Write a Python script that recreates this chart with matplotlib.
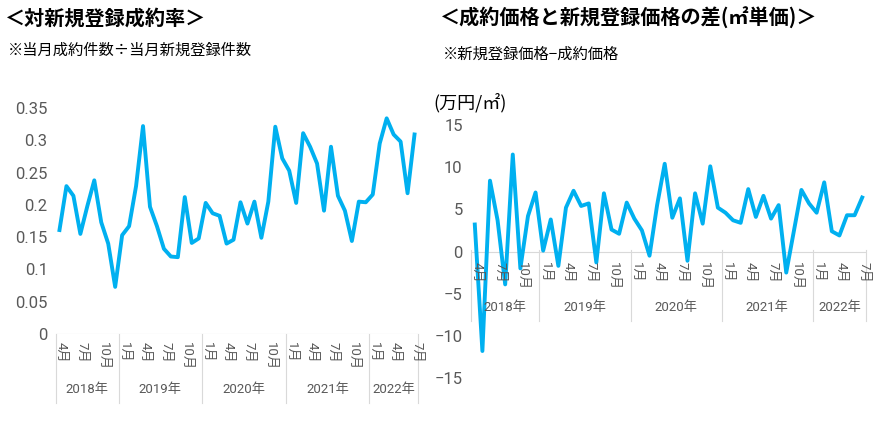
import matplotlib
matplotlib.use("Agg")
import matplotlib.pyplot as plt
import matplotlib.transforms as mt

plt.rcParams['font.family'] = ['Noto Sans CJK JP', 'DejaVu Sans']

months = [4,5,6,7,8,9,10,11,12] + list(range(1,13))*3 + [1,2,3,4,5,6,7]
years = [2018]*9 + [2019]*12 + [2020]*12 + [2021]*12 + [2022]*7
rate = [0.161,0.229,0.214,0.155,0.198,0.238,0.173,0.140,0.073,0.153,0.167,0.229,0.322,
        0.197,0.167,0.132,0.120,0.119,0.212,0.141,0.148,0.203,0.187,0.183,0.140,0.146,
        0.204,0.171,0.205,0.149,0.205,0.321,0.272,0.253,0.203,0.311,0.290,0.264,0.191,
        0.290,0.214,0.191,0.144,0.205,0.204,0.216,0.295,0.334,0.309,0.298,0.218,0.309]
diff = [3.2,-11.8,8.4,3.7,-3.9,11.5,-2.0,4.2,7.0,0.1,3.8,-1.7,5.2,7.2,5.4,5.7,-1.3,6.9,
        2.6,2.1,5.8,3.9,2.5,-0.5,5.5,10.4,4.0,6.3,-1.1,6.9,3.3,10.1,5.2,4.6,3.7,3.4,7.4,
        4.1,6.6,3.9,5.5,-2.5,2.4,7.3,5.7,4.6,8.2,2.4,1.9,4.3,4.3,6.4]

W, H = 879, 421
fig = plt.figure(figsize=(W/100, H/100), dpi=100)
BLUE = '#00B0F0'
GREY = '#595959'
LINE = '#D9D9D9'
NUMF = ['Roboto', 'Noto Sans CJK JP']

def px(x0, y0, x1, y1):
    return [x0/W, 1-y1/H, (x1-x0)/W, (y1-y0)/H]

def cat_axis(ax, base, mlab_top, year_y, line_bottom):
    n = len(months)
    tr = mt.blended_transform_factory(ax.transData, fig.transFigure)
    bounds = [-0.5] + [i-0.5 for i in range(1, n) if years[i] != years[i-1]] + [n-0.5]
    for b in bounds:
        ax.plot([b, b], [1-base/H, 1-line_bottom/H], transform=tr, color=LINE, lw=0.8, clip_on=False)
    for i in range(0, n, 3):
        ax.text(i+0.3, 1-mlab_top/H, f"{months[i]}月", transform=tr, rotation=-90,
                ha='center', va='top', fontsize=9.5, color=GREY, family=NUMF)
    for a, b in zip(bounds[:-1], bounds[1:]):
        ax.text((a+b)/2, 1-year_y/H, f"{years[int(a+0.5)]}年", transform=tr,
                ha='center', va='center', fontsize=9.5, color=GREY, family=NUMF)

def style(ax):
    for s in ax.spines.values():
        s.set_visible(False)
    ax.tick_params(axis='both', length=0, labelsize=12, labelcolor=GREY, pad=6)
    for t in ax.get_yticklabels():
        t.set_family(NUMF)
    ax.set_xticks([])
    ax.set_facecolor('none')

x = list(range(len(rate)))
# left
ax1 = fig.add_axes(px(56, 108, 418, 334))
ax1.plot(x, rate, color=BLUE, lw=2.8, solid_joinstyle='round')
ax1.set_xlim(-0.5, len(rate)-0.5)
ax1.set_ylim(0, 0.35)
ax1.set_yticks([0,0.05,0.1,0.15,0.2,0.25,0.3,0.35])
ax1.set_yticklabels(['0','0.05','0.1','0.15','0.2','0.25','0.3','0.35'])
style(ax1)
ax1.axhline(0, color=LINE, lw=0.8)
cat_axis(ax1, 334, 342, 390, 403)

# right
ax2 = fig.add_axes(px(471, 125, 866, 378))
ax2.plot(x, diff, color=BLUE, lw=2.8, solid_joinstyle='round')
ax2.set_xlim(-0.5, len(diff)-0.5)
ax2.set_ylim(-15, 15)
ax2.set_yticks([-15,-10,-5,0,5,10,15])
style(ax2)
ax2.axhline(0, color=LINE, lw=0.8, zorder=0)
cat_axis(ax2, 250, 262, 308, 321)

fig.text(5/W, 1-18/H, "＜対新規登録成約率＞", fontsize=14.5, fontweight='bold', va='center', ha='left')
fig.text(8/W, 1-50/H, "※当月成約件数÷当月新規登録件数", fontsize=11, va='center', ha='left')
fig.text(440/W, 1-18/H, "＜成約価格と新規登録価格の差(㎡単価)＞", fontsize=14.5, fontweight='bold', va='center', ha='left')
fig.text(443/W, 1-54/H, "※新規登録価格−成約価格", fontsize=11, va='center', ha='left')
fig.text(433/W, 1-103/H, "(万円/㎡)", fontsize=13, va='center', ha='left')

fig.savefig("out.png", dpi=100)
